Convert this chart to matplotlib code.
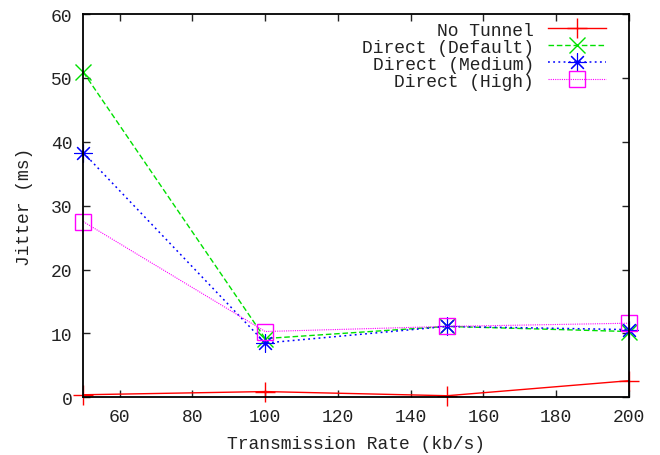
import matplotlib
matplotlib.use('Agg')
import matplotlib.pyplot as plt

# transmission rate (kb/s)
rates = [50, 100, 150, 200]

# jitter (ms) per setup
no_tunnel = [0.4, 0.9, 0.25, 2.6]
direct_default = [50.9, 9.2, 11.1, 10.3]
direct_medium = [38.3, 8.5, 11.1, 10.6]
direct_high = [27.5, 10.3, 11.1, 11.6]

x_ticks = [60, 80, 100, 120, 140, 160, 180, 200]
y_ticks = [0, 10, 20, 30, 40, 50, 60]

plt.rcParams['font.family'] = ['Liberation Mono', 'DejaVu Sans Mono']
plt.rcParams['font.size'] = 13
plt.rcParams['text.color'] = '#222222'
plt.rcParams['axes.labelcolor'] = '#222222'
plt.rcParams['xtick.color'] = '#222222'
plt.rcParams['ytick.color'] = '#222222'

fig = plt.figure(figsize=(6.6, 4.56), dpi=100)
ax = fig.add_axes([0.1262, 0.1265, 0.9530 - 0.1262, 0.967 - 0.1265])

ax.plot(rates, no_tunnel, color='#ff0000', linestyle='-', lw=1,
        marker='+', ms=14, mew=1, label='No Tunnel', clip_on=False)
ax.plot(rates, direct_default, color='#00e000', linestyle=(0, (4, 2)), lw=1,
        marker='x', ms=11, mew=1, label='Direct (Default)', clip_on=False)
ax.plot(rates, direct_medium, color='#0000ff', linestyle=(0, (1.2, 2.2)), lw=1.1,
        marker=(8, 2, 0), ms=13, mew=0.8, label='Direct (Medium)', clip_on=False)
ax.plot(rates, direct_high, color='#ff00ff', linestyle=(0, (1, 1)), lw=0.8,
        marker='s', ms=11, mew=1, mfc='none', label='Direct (High)', clip_on=False)

ax.set_xlim(50, 200)
ax.set_ylim(0, 60)
ax.set_xticks(x_ticks)
ax.set_yticks(y_ticks)
ax.tick_params(direction='in', length=5, width=1, top=True, right=True, pad=8)
for s in ax.spines.values():
    s.set_linewidth(1.3)
    s.set_color('black')

ax.set_xlabel('Transmission Rate (kb/s)', labelpad=7)
ax.set_ylabel('Jitter (ms)', labelpad=13)

ax.legend(loc='upper right', bbox_to_anchor=(0.958, 0.98), frameon=False,
          markerfirst=False, handlelength=3.2, handletextpad=0.8,
          labelspacing=0.0, borderaxespad=0, borderpad=0, fontsize=13)

fig.savefig('out.png', dpi=100)
